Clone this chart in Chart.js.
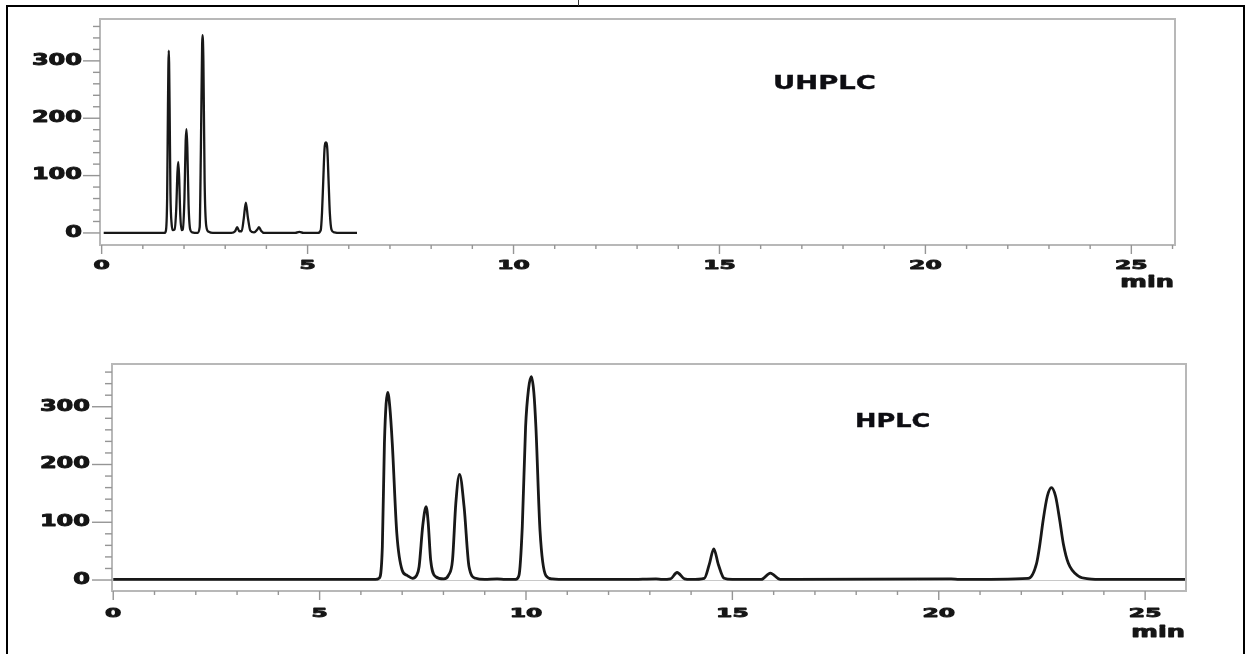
<!DOCTYPE html>
<html>
<head>
<meta charset="utf-8">
<script src="https://cdn.jsdelivr.net/npm/chart.js@4.4.1/dist/chart.umd.min.js"></script>
<style>
  body { margin: 0; background: #fff; width: 1247px; height: 654px; overflow: hidden; position: relative; font-family: "DejaVu Sans", sans-serif; }
  #marco { position: absolute; left: 6px; top: 5px; width: 1239px; height: 700px; border: 2px solid #000; box-sizing: border-box; }
  #corte { position: absolute; left: 578px; top: 0; width: 1px; height: 6px; background: #333; }
  canvas { position: absolute; left: 0; }
  .titulo { position: absolute; font-weight: bold; font-size: 20px; line-height: 1; color: #0d0d12; transform-origin: left top; white-space: nowrap; -webkit-text-stroke: 0.4px #0d0d12; }
</style>
</head>
<body>
<div id="marco"></div>
<div id="corte"></div>
<canvas id="graficaUhplc" width="1247" height="310" style="top:0"></canvas>
<canvas id="graficaHplc" width="1247" height="334" style="top:320px"></canvas>
<div class="titulo" style="left:773px; top:72px; transform:scaleX(1.37)">UHPLC</div>
<div class="titulo" style="left:855px; top:410px; transform:scaleX(1.28)">HPLC</div>
<script>
const tiemposUhplc = [0.05, 1.52, 1.56, 1.59, 1.61, 1.63, 1.65, 1.67, 1.70, 1.73,
  1.77, 1.81, 1.84, 1.86, 1.88, 1.91, 1.94, 1.97, 2.01, 2.04,
  2.06, 2.08, 2.11, 2.15, 2.20, 2.33, 2.38, 2.41, 2.44, 2.45,
  2.47, 2.50, 2.54, 2.60, 2.70, 3.15, 3.24, 3.29, 3.34, 3.40,
  3.45, 3.50, 3.55, 3.61, 3.70, 3.78, 3.82, 3.87, 3.95, 4.70,
  4.80, 4.90, 5.25, 5.32, 5.35, 5.38, 5.41, 5.445, 5.48, 5.51,
  5.54, 5.58, 5.65, 5.80, 6.20];
const senalUhplc = [0, 0, 4, 60, 220, 318, 220, 70, 15, 5,
  6, 40, 105, 124, 100, 30, 5, 6, 60, 160,
  181, 150, 50, 6, 1, 0, 10, 150, 330, 345,
  300, 90, 12, 2, 0, 0, 3, 10, 3, 3,
  25, 53, 27, 4, 1, 6, 10, 4, 0, 0,
  2, 0, 0, 5, 35, 90, 145, 158, 145, 90,
  35, 6, 1, 0, 0];

const tiemposHplc = [0, 6.35, 6.44, 6.52, 6.57, 6.65, 6.70, 6.76, 6.87, 7.00,
  7.12, 7.25, 7.35, 7.41, 7.50, 7.58, 7.63, 7.69, 7.81, 8.01,
  8.12, 8.22, 8.30, 8.39, 8.50, 8.62, 8.78, 9.00, 9.30, 9.50,
  9.75, 9.83, 9.91, 9.99, 10.06, 10.13, 10.19, 10.24, 10.34, 10.48,
  10.64, 11.00, 12.50, 13.15, 13.30, 13.50, 13.66, 13.84, 14.00, 14.32,
  14.44, 14.55, 14.66, 14.80, 15.00, 15.70, 15.92, 16.16, 16.50, 20.30,
  20.50, 22.17, 22.37, 22.45, 22.53, 22.63, 22.73, 22.83, 22.93, 23.02,
  23.14, 23.38, 23.64, 24.00, 26.03];
const senalHplc = [1, 1, 3, 58, 237, 325, 300, 237, 81, 17,
  8, 3, 8, 23, 95, 127, 100, 35, 6, 2,
  8, 35, 133, 183, 127, 23, 3, 1, 2, 1,
  1, 8, 92, 265, 330, 352, 325, 265, 85, 8,
  2, 1, 1, 2, 1, 2, 13, 2, 1, 3,
  27, 54, 27, 3, 1, 1, 12, 1, 1, 2,
  1, 3, 29, 62, 104, 145, 160, 145, 104, 62,
  29, 7, 2, 1, 1];

const etiquetasY = [0, 100, 200, 300];
const etiquetasX = [0, 5, 10, 15, 20, 25];
const unidadX = "min";

// texto estirado a lo ancho, como en la figura
const textoAncho = (ctx, texto, px, py, escala) => {
  ctx.save();
  ctx.translate(px, py);
  ctx.scale(escala, 1);
  ctx.strokeText(texto, 0, 0);
  ctx.fillText(texto, 0, 0);
  ctx.restore();
};

// marco gris, marcas y etiquetas de los ejes
const ejes = {
  id: "ejes",
  beforeDatasetsDraw(chart, args, o) {
    if (!o.lineaCero) return;
    const { ctx, chartArea: a, scales: { y } } = chart;
    const y0 = Math.round(y.getPixelForValue(0)) + 0.5;
    ctx.save();
    ctx.strokeStyle = "#c8c8c8";
    ctx.lineWidth = 1;
    ctx.beginPath();
    ctx.moveTo(a.left, y0);
    ctx.lineTo(a.right, y0);
    ctx.stroke();
    ctx.restore();
  },
  afterDraw(chart, args, o) {
    const { ctx, chartArea: a, scales: { x, y } } = chart;
    ctx.save();
    ctx.strokeStyle = "#b8b8b8";
    ctx.lineWidth = 2;
    ctx.strokeRect(a.left, a.top, a.right - a.left, a.bottom - a.top);

    ctx.strokeStyle = "#959595";
    ctx.lineWidth = 1.4;
    for (let v = 0; v <= y.max; v += 20) {
      const py = y.getPixelForValue(v);
      const largo = etiquetasY.includes(v) ? o.largoY : 7;
      ctx.beginPath();
      ctx.moveTo(a.left - largo, py);
      ctx.lineTo(a.left, py);
      ctx.stroke();
    }
    for (let t = 0; t <= x.max; t += 1) {
      const px = x.getPixelForValue(t);
      const largo = etiquetasX.includes(t) ? 9 : 4;
      ctx.beginPath();
      ctx.moveTo(px, a.bottom);
      ctx.lineTo(px, a.bottom + largo);
      ctx.stroke();
    }

    ctx.fillStyle = "#151515";
    ctx.strokeStyle = "#151515";
    ctx.lineWidth = 0.9;
    ctx.lineJoin = "round";

    ctx.font = 'bold 15px "DejaVu Sans"';
    ctx.textAlign = "right";
    ctx.textBaseline = "middle";
    etiquetasY.forEach((v) => {
      textoAncho(ctx, String(v), a.left - o.separY, y.getPixelForValue(v), 1.6);
    });

    ctx.font = 'bold 13px "DejaVu Sans"';
    ctx.textAlign = "center";
    ctx.textBaseline = "alphabetic";
    etiquetasX.forEach((t) => {
      textoAncho(ctx, String(t), x.getPixelForValue(t), a.bottom + o.baseX, 1.8);
    });

    ctx.font = 'bold 16px "DejaVu Sans"';
    ctx.textAlign = "right";
    textoAncho(ctx, unidadX, a.right - 1, a.bottom + o.baseUnidad, 1.6);
    ctx.restore();
  },
};

const pintarCromatograma = (idCanvas, tiempos, senal, c) => {
  const puntos = tiempos.map((t, i) => ({ x: t, y: senal[i] }));
  return new Chart(document.getElementById(idCanvas), {
    type: "line",
    data: {
      datasets: [
        {
          data: puntos,
          borderColor: "#181818",
          borderWidth: c.grosor,
          pointRadius: 0,
          fill: false,
          cubicInterpolationMode: "monotone",
        },
      ],
    },
    options: {
      responsive: false,
      animation: false,
      layout: { padding: { top: c.arriba, right: c.derecha, left: 0, bottom: 0 } },
      plugins: {
        legend: { display: false },
        tooltip: { enabled: false },
        ejes: c.ejes,
      },
      scales: {
        x: {
          type: "linear",
          min: c.xMin,
          max: c.xMax,
          ticks: { display: false },
          grid: { display: false },
          border: { display: false },
          afterFit: (s) => { s.height = c.altoX; },
        },
        y: {
          min: c.yMin,
          max: c.yMax,
          ticks: { display: false },
          grid: { display: false },
          border: { display: false },
          afterFit: (s) => { s.width = c.anchoY; },
        },
      },
    },
    plugins: [ejes],
  });
};

pintarCromatograma("graficaUhplc", tiemposUhplc, senalUhplc, {
  grosor: 2.3, arriba: 19, derecha: 72, altoX: 65, anchoY: 100,
  xMin: -0.04, xMax: 26.06, yMin: -21, yMax: 373,
  ejes: { largoY: 17, separY: 18, baseX: 24, baseUnidad: 42, lineaCero: false },
});

pintarCromatograma("graficaHplc", tiemposHplc, senalHplc, {
  grosor: 2.8, arriba: 44, derecha: 61, altoX: 63, anchoY: 112,
  xMin: -0.03, xMax: 25.99, yMin: -19, yMax: 374,
  ejes: { largoY: 20, separY: 22, baseX: 26, baseUnidad: 46, lineaCero: true },
});
</script>
</body>
</html>
